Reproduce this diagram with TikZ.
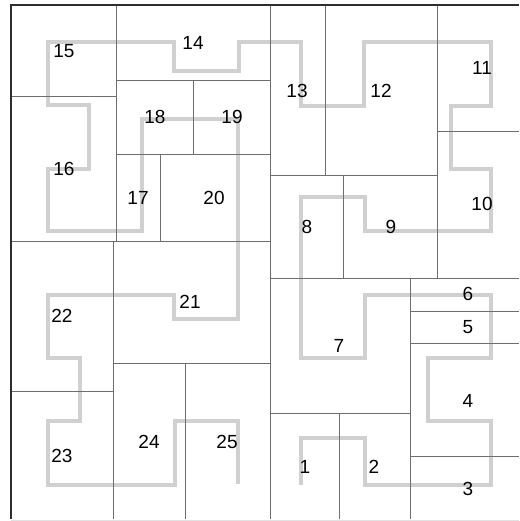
\documentclass[tikz,border=0pt]{standalone}
\usepackage{fontspec}
\setmainfont{Liberation Sans}
\usetikzlibrary{positioning}
\definecolor{framedark}{HTML}{2E2E2E}
\definecolor{cellgray}{HTML}{6E6E6E}
\definecolor{curvegray}{HTML}{D0D0D0}
\definecolor{basegray}{HTML}{E2E2E2}
\tikzset{
  cell/.style={draw=cellgray,line width=0.8pt},
  rim/.style={draw=framedark,line width=1.5pt},
  curve/.style={draw=curvegray,line width=4pt,line join=miter},
  num/.style={inner sep=0pt,font=\fontsize{19}{22}\selectfont}
}

\begin{document}
\begin{tikzpicture}[x=1pt,y=-1pt]
\useasboundingbox (0,0) rectangle (519,521);
% curve through the cells
\draw[curve] (301,485) -- (301,438) -- (365,438) -- (365,485) -- (491,485) -- (491,421)
  -- (428,421) -- (428,358) -- (491,358) -- (491,295) -- (365,295) -- (365,358)
  -- (301,358) -- (301,197) -- (365,197) -- (365,231) -- (491,231) -- (491,169)
  -- (451,169) -- (451,106) -- (491,106) -- (491,42) -- (364,42) -- (364,106)
  -- (301,106) -- (301,42) -- (239,42) -- (239,71) -- (174,71) -- (174,42)
  -- (48,42) -- (48,105) -- (89,105) -- (89,169) -- (48,169) -- (48,231)
  -- (142,231) -- (142,119) -- (238,119) -- (238,319) -- (174,319) -- (174,295)
  -- (48,295) -- (48,358) -- (80,358) -- (80,421) -- (48,421) -- (48,485)
  -- (175,485) -- (175,421) -- (238,421) -- (238,484);
% cell borders
\draw[cell] (116,5) -- (116,241);
\draw[cell] (193,80) -- (193,154);
\draw[cell] (160,154) -- (160,241);
\draw[cell] (270,5) -- (270,519);
\draw[cell] (325,5) -- (325,175);
\draw[cell] (437,5) -- (437,278);
\draw[cell] (343,175) -- (343,278);
\draw[cell] (410,278) -- (410,519);
\draw[cell] (339,413) -- (339,519);
\draw[cell] (113,241) -- (113,519);
\draw[cell] (185,363) -- (185,519);
\draw[cell] (11,96) -- (116,96);
\draw[cell] (116,80) -- (270,80);
\draw[cell] (116,154) -- (270,154);
\draw[cell] (11,241) -- (270,241);
\draw[cell] (270,175) -- (437,175);
\draw[cell] (437,131) -- (519,131);
\draw[cell] (270,278) -- (519,278);
\draw[cell] (410,311) -- (519,311);
\draw[cell] (410,343) -- (519,343);
\draw[cell] (270,413) -- (410,413);
\draw[cell] (410,456) -- (519,456);
\draw[cell] (11,391) -- (113,391);
\draw[cell] (113,363) -- (270,363);
% frame
\draw[draw=basegray,line width=0.8pt] (11,520) -- (519,520);
\draw[rim] (11,519) -- (11,5) -- (519,5);
% cell numbers
\node[num] (n1) at (305,467) {1};
\node[num] (n2) at (374,467) {2};
\node[num] (n3) at (468,489) {3};
\node[num] (n4) at (468,401) {4};
\node[num] (n5) at (468,327) {5};
\node[num] (n6) at (468,294) {6};
\node[num] (n7) at (339,346) {7};
\node[num] (n8) at (307,227) {8};
\node[num] (n9) at (391,227) {9};
\node[num] (n10) at (482,204) {10};
\node[num] (n11) at (482,68) {11};
\node[num] (n12) at (381,91) {12};
\node[num] (n13) at (297,91) {13};
\node[num] (n14) at (193,43) {14};
\node[num] (n15) at (64,51) {15};
\node[num] (n16) at (64,169) {16};
\node[num] (n17) at (138,198) {17};
\node[num] (n18) at (155,117) {18};
\node[num] (n19) at (232,117) {19};
\node[num] (n20) at (214,198) {20};
\node[num] (n21) at (190,302) {21};
\node[num] (n22) at (62,316) {22};
\node[num] (n23) at (62,456) {23};
\node[num] (n24) at (149,442) {24};
\node[num] (n25) at (227,442) {25};
\end{tikzpicture}
\end{document}
